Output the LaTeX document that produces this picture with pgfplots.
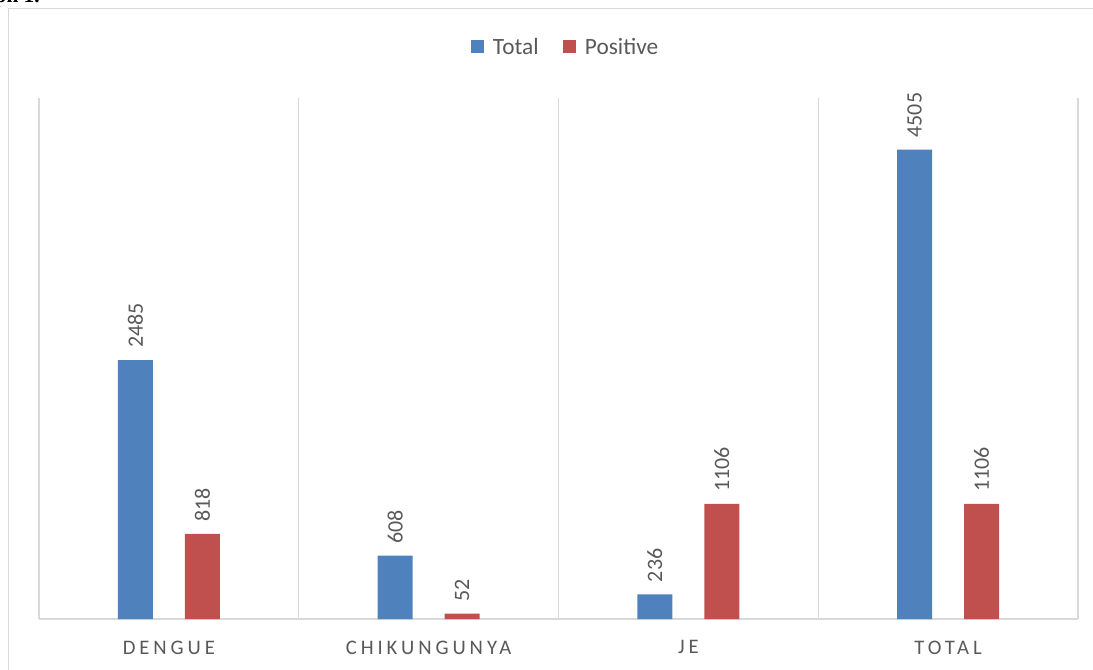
\documentclass[border=0pt]{standalone}
\usepackage{pgfplots}
\pgfplotsset{compat=1.18}
\usepackage{fontspec}
\setmainfont{Carlito}
\newfontfamily\serifb{Liberation Serif}
\newfontfamily\catfont[LetterSpace=19]{Carlito}
\definecolor{tblue}{RGB}{79,129,189}
\definecolor{tred}{RGB}{192,80,77}
\definecolor{gridc}{RGB}{217,217,217}
\definecolor{txt}{RGB}{89,89,89}
\begin{document}
\begin{tikzpicture}[x=0.75pt,y=0.75pt]
\path[use as bounding box] (0,0) rectangle (1093,669);
\draw[gridc, line width=1.2pt] (8.5,-20) -- (8.5,660.5) -- (1120,660.5);
\node[anchor=base east, font=\serifb\bfseries\fontsize{16}{18}\selectfont, inner sep=0pt] at (40,666) {Graph 1.};
\begin{axis}[
  at={(29.25pt,37.5pt)}, anchor=south west,
  scale only axis, width=779.25pt, height=390.75pt,
  ybar=24pt, bar width=26.25pt,
  xmin=-0.5, xmax=3.5, ymin=0, ymax=5000,
  axis line style={draw=none},
  tick style={draw=none},
  xtick={0,1,2,3},
  xticklabels={DENGUE,CHIKUNGUNYA,JE,TOTAL},
  xticklabel style={font=\catfont\fontsize{15.5}{18}\selectfont, text=txt, yshift=-8.5pt},
  ytick=\empty,
  extra x ticks={-0.5,0.5,1.5,2.5,3.5},
  extra x tick labels={},
  extra x tick style={grid=major, major grid style={draw=gridc, line width=0.8pt}},
  extra y ticks={0},
  extra y tick labels={},
  extra y tick style={grid=major, major grid style={draw=gridc, line width=1.2pt}},
  /pgf/number format/1000 sep={},
  /pgf/number format/assume math mode=true,
  nodes near coords,
  every node near coord/.append style={rotate=90, anchor=west, font=\fontsize{16.5}{19}\selectfont, text=txt, inner xsep=9pt},
  legend style={at={(0.507,1.097)}, anchor=center, draw=none, fill=none,
    legend columns=2, font=\fontsize{17.5}{20}\selectfont, text=txt,
    /tikz/every odd column/.append style={column sep=5pt},
    /tikz/every even column/.append style={column sep=16pt}},
  legend image code/.code={\fill[#1] (0pt,-4.5pt) rectangle (9.75pt,5.25pt);},
]
\addplot[fill=tblue, draw=none] coordinates {(0,2485) (1,608) (2,236) (3,4505)};
\addplot[fill=tred, draw=none] coordinates {(0,818) (1,52) (2,1106) (3,1106)};
\legend{Total,Positive}
\end{axis}
\end{tikzpicture}
\end{document}
